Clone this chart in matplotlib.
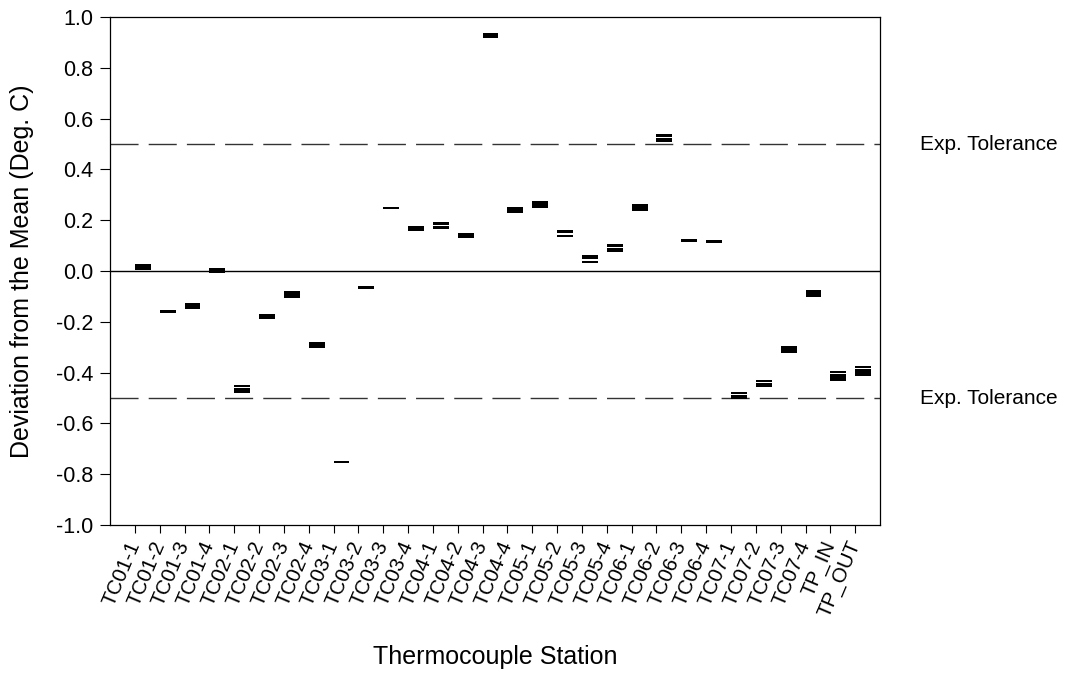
import matplotlib
matplotlib.use("Agg")
import matplotlib.pyplot as plt
import matplotlib.transforms as mtransforms
import numpy as np

plt.rcParams["font.family"] = ["Liberation Sans", "DejaVu Sans"]
plt.rcParams["lines.scale_dashes"] = False

# Thermocouple stations
stations = [
    "TC01-1", "TC01-2", "TC01-3", "TC01-4",
    "TC02-1", "TC02-2", "TC02-3", "TC02-4",
    "TC03-1", "TC03-2", "TC03-3", "TC03-4",
    "TC04-1", "TC04-2", "TC04-3", "TC04-4",
    "TC05-1", "TC05-2", "TC05-3", "TC05-4",
    "TC06-1", "TC06-2", "TC06-3", "TC06-4",
    "TC07-1", "TC07-2", "TC07-3", "TC07-4",
    "TP_IN", "TP_OUT",
]

# box top / bottom (deviation from the mean, deg C)
box_high = [0.028, -0.154, -0.126, 0.012, -0.449, -0.169, -0.079, -0.280,
            -0.747, -0.059, 0.253, 0.178, 0.193, 0.150, 0.937, 0.253,
            0.276, 0.161, 0.063, 0.105, 0.264, 0.538, 0.125, 0.121,
            -0.476, -0.430, -0.295, -0.075, -0.394, -0.374]
box_low = [0.004, -0.164, -0.150, -0.007, -0.479, -0.189, -0.105, -0.302,
           -0.757, -0.070, 0.245, 0.159, 0.167, 0.131, 0.917, 0.230,
           0.249, 0.135, 0.033, 0.075, 0.237, 0.508, 0.114, 0.110,
           -0.503, -0.457, -0.322, -0.102, -0.433, -0.413]

# open interior of the box (between upper edge and median), nan = none visible
gap_high = [np.nan, np.nan, np.nan, np.nan, -0.455, np.nan, np.nan, np.nan,
            np.nan, np.nan, np.nan, np.nan, 0.180, np.nan, np.nan, np.nan,
            np.nan, 0.148, 0.046, 0.096, np.nan, 0.529, np.nan, np.nan,
            -0.484, -0.438, np.nan, np.nan, -0.402, -0.382]
gap_low = [np.nan, np.nan, np.nan, np.nan, -0.461, np.nan, np.nan, np.nan,
           np.nan, np.nan, np.nan, np.nan, 0.176, np.nan, np.nan, np.nan,
           np.nan, 0.143, 0.041, 0.089, np.nan, 0.524, np.nan, np.nan,
           -0.489, -0.442, np.nan, np.nan, -0.406, -0.387]

tolerance = 0.5
y_ticks = [-1.0, -0.8, -0.6, -0.4, -0.2, 0.0, 0.2, 0.4, 0.6, 0.8, 1.0]

fig = plt.figure(figsize=(10.71, 6.73), dpi=100)
ax = fig.add_axes([0.1027, 0.2199, 0.7190, 0.7548])

x = np.arange(len(stations))
high = np.array(box_high)
low = np.array(box_low)
ax.bar(x, high - low, bottom=low, width=0.64, align="edge",
       color="black", linewidth=0, zorder=3)

g_hi = np.array(gap_high)
g_lo = np.array(gap_low)
has_gap = ~np.isnan(g_hi)
ax.bar(x[has_gap], (g_hi - g_lo)[has_gap], bottom=g_lo[has_gap], width=0.64,
       align="edge", color="white", linewidth=0, zorder=4)

# reference lines
ax.axhline(0, color="black", lw=1.0, zorder=2)
for t in (tolerance, -tolerance):
    ax.axhline(t, color="#333333", lw=1.0, dashes=(20.2, 7.3), zorder=2)

trans = mtransforms.blended_transform_factory(ax.transAxes, ax.transData)
for t in (tolerance, -tolerance):
    ax.text(1.052, t, "Exp. Tolerance", transform=trans, fontsize=15,
            ha="left", va="center")

ax.set_xlim(-1, 30)
ax.set_ylim(-1.0, 1.0)
ax.set_yticks(y_ticks)
ax.set_yticklabels(["%.1f" % v for v in y_ticks])
ax.set_xticks(x)
ax.set_xticklabels(stations, rotation=67, ha="right", va="center",
                   rotation_mode="anchor")

ax.tick_params(axis="y", direction="out", length=7, width=0.8, pad=5,
               labelsize=15.5)
ax.tick_params(axis="x", direction="out", length=6, width=0.8, pad=6,
               labelsize=14.8)
for s in ax.spines.values():
    s.set_linewidth(0.9)

ax.set_xlabel("Thermocouple Station", fontsize=18)
ax.set_ylabel("Deviation from the Mean (Deg. C)", fontsize=18)
ax.xaxis.set_label_coords(0.5, -0.0, transform=mtransforms.blended_transform_factory(
    ax.transAxes, fig.transFigure))
ax.xaxis.label.set_position((0.5, 1 - 657 / 673))
ax.xaxis.label.set_va("center")
ax.yaxis.set_label_coords(22 / 1071, 0.5, transform=mtransforms.blended_transform_factory(
    fig.transFigure, ax.transAxes))
ax.yaxis.label.set_va("center")

fig.savefig("out.png", dpi=100)
